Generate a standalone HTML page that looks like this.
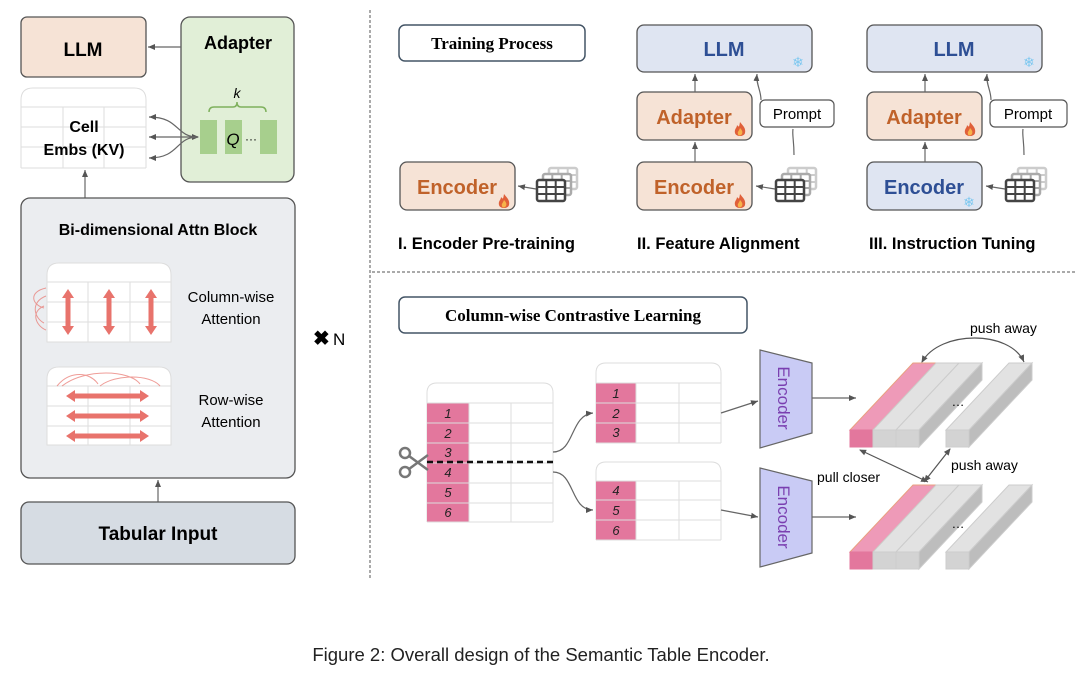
<!DOCTYPE html>
<html><head><meta charset="utf-8"><style>
html,body{margin:0;padding:0;background:#fff;}
svg{display:block;}
text{font-family:"Liberation Sans",sans-serif;}
.b{font-weight:bold;}
.serif{font-family:"Liberation Serif",serif;font-weight:bold;}
</style></head><body>
<svg width="1080" height="678" viewBox="0 0 1080 678" xmlns="http://www.w3.org/2000/svg">
<defs>
<marker id="ah" markerWidth="8" markerHeight="8" refX="7" refY="4" orient="auto" markerUnits="userSpaceOnUse"><path d="M0,1 L7,4 L0,7 z" fill="#555"/></marker>
<marker id="ahs" markerWidth="8" markerHeight="8" refX="1" refY="4" orient="auto" markerUnits="userSpaceOnUse"><path d="M7,1 L0,4 L7,7 z" fill="#555"/></marker>
<g id="grid">
<rect x="0" y="0" width="28" height="21" rx="2" fill="#fff" stroke-width="2.5"/>
<path d="M9.3,0V21M18.7,0V21M0,7H28M0,14H28" stroke-width="2"/>
</g>
<g id="tbl">
<g stroke="#ccc" fill="#fff"><use href="#grid" x="12" y="-12"/></g>
<g stroke="#aaa" fill="#fff"><use href="#grid" x="6" y="-6"/></g>
<g stroke="#444"><use href="#grid" x="0" y="0"/></g>
</g>
<g id="flame"><path d="M6,0 C9,4 12,6 11,11 C10,15 2,15 1,11 C0,7 3,6 3,3 C5,5 5,6 6,0z" fill="#e0603a"/><path d="M6,6 C8,8 9,10 8,12 C7,14 4,14 4,12 C3,10 5,9 6,6z" fill="#f7b24a"/></g>
</defs>

<!-- LEFT PANEL -->
<rect x="21" y="17" width="125" height="60" rx="6" fill="#f6e3d6" stroke="#555" stroke-width="1.3"/>
<text x="83" y="56" text-anchor="middle" class="b" font-size="19">LLM</text>
<rect x="181" y="17" width="113" height="165" rx="9" fill="#e1efd7" stroke="#555" stroke-width="1.3"/>
<text x="238" y="49" text-anchor="middle" class="b" font-size="18">Adapter</text>
<line x1="181" y1="47" x2="148" y2="47" stroke="#666" stroke-width="1.2" marker-end="url(#ah)"/>
<text x="237" y="98" text-anchor="middle" font-size="14" font-style="italic" font-family="Liberation Serif">k</text>
<path d="M209,112 Q209,107 214,107 L233,107 Q237,107 237,102 Q237,107 241,107 L261,107 Q266,107 266,112" fill="none" stroke="#7fb15d" stroke-width="1.5"/>
<rect x="200" y="120" width="17" height="34" fill="#a7cf8d"/>
<rect x="225" y="120" width="17" height="34" fill="#a7cf8d"/>
<rect x="260" y="120" width="17" height="34" fill="#a7cf8d"/>
<text x="233" y="145" text-anchor="middle" font-size="17" font-style="italic">Q</text>
<text x="251" y="143" text-anchor="middle" font-size="12">···</text>
<path d="M21,168 V100 Q21,88 33,88 H134 Q146,88 146,100 V168" fill="#fff" stroke="#ddd"/>
<path d="M21,107H146M21,127H146M21,147H146M21,168H146M63,107V168M104,107V168" stroke="#ddd" fill="none"/>
<text x="84" y="132" text-anchor="middle" class="b" font-size="16">Cell</text>
<text x="84" y="155" text-anchor="middle" class="b" font-size="16">Embs (KV)</text>
<path d="M198,137 C175,137 180,117 149,117" fill="none" stroke="#666" stroke-width="1.2" marker-end="url(#ah)" marker-start="url(#ahs)"/>
<line x1="198" y1="137" x2="149" y2="137" stroke="#666" stroke-width="1.2" marker-end="url(#ah)"/>
<path d="M198,137 C175,137 180,158 149,158" fill="none" stroke="#666" stroke-width="1.2" marker-end="url(#ah)"/>
<line x1="85" y1="198" x2="85" y2="170" stroke="#666" stroke-width="1.2" marker-end="url(#ah)"/>
<rect x="21" y="198" width="274" height="280" rx="9" fill="#ebedf0" stroke="#555" stroke-width="1.3"/>
<text x="158" y="235" text-anchor="middle" class="b" font-size="16">Bi-dimensional Attn Block</text>
<path d="M47,342 V275 Q47,263 59,263 H159 Q171,263 171,275 V342 Z" fill="#fff" stroke="#ddd"/>
<path d="M47,282H171M47,302H171M47,322H171M88,282V342M130,282V342" stroke="#ddd" fill="none"/>
<g fill="#e8736c">
<path d="M68,289 l-6,9 h3.5 v28 h-3.5 l6,9 l6,-9 h-3.5 v-28 h3.5z"/>
<path d="M109,289 l-6,9 h3.5 v28 h-3.5 l6,9 l6,-9 h-3.5 v-28 h3.5z"/>
<path d="M151,289 l-6,9 h3.5 v28 h-3.5 l6,9 l6,-9 h-3.5 v-28 h3.5z"/>
</g>
<path d="M46,288 C28,292 32,305 44,308 M46,296 C30,302 34,318 44,323 M44,306 C30,312 36,326 46,330" fill="none" stroke="#e8736c" stroke-width="1" opacity="0.7"/>
<text x="231" y="302" text-anchor="middle" font-size="15">Column-wise</text>
<text x="231" y="324" text-anchor="middle" font-size="15">Attention</text>
<path d="M47,445 V379 Q47,367 59,367 H159 Q171,367 171,379 V445 Z" fill="#fff" stroke="#ddd"/>
<path d="M47,386H171M47,406H171M47,426H171M88,386V445M130,386V445" stroke="#ddd" fill="none"/>
<g fill="#e8736c">
<path d="M66,396 l9,-6 v3.5 h65 v-3.5 l9,6 l-9,6 v-3.5 h-65 v3.5z"/>
<path d="M66,416 l9,-6 v3.5 h65 v-3.5 l9,6 l-9,6 v-3.5 h-65 v3.5z"/>
<path d="M66,436 l9,-6 v3.5 h65 v-3.5 l9,6 l-9,6 v-3.5 h-65 v3.5z"/>
</g>
<path d="M57,386 C70,370 90,372 98,384 M62,386 C85,368 130,370 140,384 M100,386 C115,374 150,374 160,386" fill="none" stroke="#e8736c" stroke-width="1" opacity="0.7"/>
<text x="231" y="405" text-anchor="middle" font-size="15">Row-wise</text>
<text x="231" y="427" text-anchor="middle" font-size="15">Attention</text>
<text x="313" y="345" font-size="20" font-weight="bold">✖</text>
<text x="333" y="345" font-size="17" font-family="Liberation Serif">N</text>
<line x1="158" y1="502" x2="158" y2="480" stroke="#666" stroke-width="1.2" marker-end="url(#ah)"/>
<rect x="21" y="502" width="274" height="62" rx="8" fill="#d6dce3" stroke="#555" stroke-width="1.3"/>
<text x="158" y="540" text-anchor="middle" class="b" font-size="19">Tabular Input</text>

<line x1="370" y1="10" x2="370" y2="578" stroke="#555" stroke-width="1" stroke-dasharray="3,2"/>
<line x1="372" y1="272" x2="1075" y2="272" stroke="#555" stroke-width="1" stroke-dasharray="3,2"/>

<rect x="399" y="25" width="186" height="36" rx="6" fill="#fff" stroke="#445566" stroke-width="1.5"/>
<text x="492" y="49" text-anchor="middle" class="serif" font-size="17">Training Process</text>

<rect x="400" y="162" width="115" height="48" rx="7" fill="#f6e3d6" stroke="#555" stroke-width="1.3"/>
<text x="457" y="194" text-anchor="middle" class="b" font-size="20" fill="#c0622a">Encoder</text>
<use href="#flame" x="498" y="194"/>
<line x1="536" y1="189" x2="518" y2="186" stroke="#666" stroke-width="1.2" marker-end="url(#ah)"/>
<use href="#tbl" x="537" y="180"/>

<rect x="637" y="25" width="175" height="47" rx="7" fill="#dfe5f2" stroke="#555" stroke-width="1.3"/>
<text x="724" y="56" text-anchor="middle" class="b" font-size="20" fill="#2e4f95">LLM</text>
<text x="798" y="67" text-anchor="middle" font-size="14" fill="#7ec8f0">❄</text>
<rect x="637" y="92" width="115" height="48" rx="7" fill="#f6e3d6" stroke="#555" stroke-width="1.3"/>
<text x="694" y="124" text-anchor="middle" class="b" font-size="20" fill="#c0622a">Adapter</text>
<use href="#flame" x="734" y="122"/>
<rect x="637" y="162" width="115" height="48" rx="7" fill="#f6e3d6" stroke="#555" stroke-width="1.3"/>
<text x="694" y="194" text-anchor="middle" class="b" font-size="20" fill="#c0622a">Encoder</text>
<use href="#flame" x="734" y="194"/>
<line x1="695" y1="162" x2="695" y2="142" stroke="#666" stroke-width="1.2" marker-end="url(#ah)"/>
<line x1="695" y1="92" x2="695" y2="74" stroke="#666" stroke-width="1.2" marker-end="url(#ah)"/>
<rect x="760" y="100" width="74" height="27" rx="5" fill="#fff" stroke="#555" stroke-width="1.2"/>
<text x="797" y="119" text-anchor="middle" font-size="15">Prompt</text>
<path d="M761,100 C761,90 756,85 757,74" fill="none" stroke="#666" stroke-width="1.2" marker-end="url(#ah)"/>
<path d="M794,155 C794,140 792,135 793,129" fill="none" stroke="#666" stroke-width="1.2"/>
<line x1="775" y1="189" x2="756" y2="186" stroke="#666" stroke-width="1.2" marker-end="url(#ah)"/>
<use href="#tbl" x="776" y="180"/>

<rect x="867" y="25" width="175" height="47" rx="7" fill="#dfe5f2" stroke="#555" stroke-width="1.3"/>
<text x="954" y="56" text-anchor="middle" class="b" font-size="20" fill="#2e4f95">LLM</text>
<text x="1029" y="67" text-anchor="middle" font-size="14" fill="#7ec8f0">❄</text>
<rect x="867" y="92" width="115" height="48" rx="7" fill="#f6e3d6" stroke="#555" stroke-width="1.3"/>
<text x="924" y="124" text-anchor="middle" class="b" font-size="20" fill="#c0622a">Adapter</text>
<use href="#flame" x="964" y="122"/>
<rect x="867" y="162" width="115" height="48" rx="7" fill="#dfe5f2" stroke="#555" stroke-width="1.3"/>
<text x="924" y="194" text-anchor="middle" class="b" font-size="20" fill="#2e4f95">Encoder</text>
<text x="969" y="207" text-anchor="middle" font-size="14" fill="#7ec8f0">❄</text>
<line x1="925" y1="162" x2="925" y2="142" stroke="#666" stroke-width="1.2" marker-end="url(#ah)"/>
<line x1="925" y1="92" x2="925" y2="74" stroke="#666" stroke-width="1.2" marker-end="url(#ah)"/>
<rect x="990" y="100" width="77" height="27" rx="5" fill="#fff" stroke="#555" stroke-width="1.2"/>
<text x="1028" y="119" text-anchor="middle" font-size="15">Prompt</text>
<path d="M991,100 C991,90 986,85 987,74" fill="none" stroke="#666" stroke-width="1.2" marker-end="url(#ah)"/>
<path d="M1024,155 C1024,140 1022,135 1023,129" fill="none" stroke="#666" stroke-width="1.2"/>
<line x1="1005" y1="189" x2="986" y2="186" stroke="#666" stroke-width="1.2" marker-end="url(#ah)"/>
<use href="#tbl" x="1006" y="180"/>

<text x="398" y="249" class="b" font-size="16.5">I. Encoder Pre-training</text>
<text x="637" y="249" class="b" font-size="16.5">II. Feature Alignment</text>
<text x="869" y="249" class="b" font-size="16.5">III. Instruction Tuning</text>

<rect x="399" y="297" width="348" height="36" rx="6" fill="#fff" stroke="#445566" stroke-width="1.5"/>
<text x="573" y="321" text-anchor="middle" class="serif" font-size="17">Column-wise Contrastive Learning</text>

<path d="M427,522 V393 Q427,383 437,383 H543 Q553,383 553,393 V522" fill="#fff" stroke="#ddd"/>
<rect x="427" y="403" width="42" height="119" fill="#e3779d"/>
<path d="M427,403H553M427,423H553M427,443H553M427,463H553M427,483H553M427,503H553M427,522H553M469,403V522M511,403V522" stroke="#ddd" fill="none"/>
<g font-family="Liberation Serif" font-style="italic" font-size="13" text-anchor="middle" fill="#222">
<text x="448" y="418">1</text><text x="448" y="438">2</text><text x="448" y="457">3</text><text x="448" y="477">4</text><text x="448" y="497">5</text><text x="448" y="517">6</text>
</g>
<line x1="427" y1="462" x2="553" y2="462" stroke="#111" stroke-width="2.5" stroke-dasharray="6,4"/>
<g fill="none" stroke="#777" stroke-width="2.5"><circle cx="405" cy="453" r="5"/><circle cx="405" cy="472" r="5"/><path d="M409,456 L428,470 M409,469 L428,455"/></g>

<path d="M596,443 V373 Q596,363 606,363 H711 Q721,363 721,373 V443" fill="#fff" stroke="#ddd"/>
<rect x="596" y="383" width="40" height="60" fill="#e3779d"/>
<path d="M596,383H721M596,403H721M596,423H721M596,443H721M636,383V443M679,383V443" stroke="#ddd" fill="none"/>
<path d="M596,540 V472 Q596,462 606,462 H711 Q721,462 721,472 V540" fill="#fff" stroke="#ddd"/>
<rect x="596" y="481" width="40" height="59" fill="#e3779d"/>
<path d="M596,481H721M596,500H721M596,520H721M596,540H721M636,481V540M679,481V540" stroke="#ddd" fill="none"/>
<g font-family="Liberation Serif" font-style="italic" font-size="13" text-anchor="middle" fill="#222">
<text x="616" y="398">1</text><text x="616" y="418">2</text><text x="616" y="437">3</text>
<text x="616" y="495">4</text><text x="616" y="515">5</text><text x="616" y="535">6</text>
</g>
<path d="M553,452 C575,452 570,415 593,413" fill="none" stroke="#666" stroke-width="1.2" marker-end="url(#ah)"/>
<path d="M553,472 C575,472 570,510 593,510" fill="none" stroke="#666" stroke-width="1.2" marker-end="url(#ah)"/>
<line x1="721" y1="413" x2="758" y2="401" stroke="#666" stroke-width="1.2" marker-end="url(#ah)"/>
<line x1="721" y1="510" x2="758" y2="517" stroke="#666" stroke-width="1.2" marker-end="url(#ah)"/>

<path d="M760,350 L812,363 L812,433 L760,448 Z" fill="#c9cbf5" stroke="#666" stroke-width="1.2"/>
<text transform="translate(778,398) rotate(90)" text-anchor="middle" font-size="17" fill="#7a3fb0">Encoder</text>
<path d="M760,468 L812,481 L812,553 L760,567 Z" fill="#c9cbf5" stroke="#666" stroke-width="1.2"/>
<text transform="translate(778,517) rotate(90)" text-anchor="middle" font-size="17" fill="#7a3fb0">Encoder</text>
<line x1="812" y1="398" x2="856" y2="398" stroke="#666" stroke-width="1.2" marker-end="url(#ah)"/>
<line x1="812" y1="517" x2="856" y2="517" stroke="#666" stroke-width="1.2" marker-end="url(#ah)"/>

<g id="stack1" stroke="#ccc" stroke-width="1">
<polygon points="850,430 873,430 936,363 913,363" fill="#ee9ab8" stroke="#e9a080"/>
<polygon points="873,430 896,430 959,363 936,363" fill="#e2e2e2"/>
<polygon points="896,430 919,430 982,363 959,363" fill="#e2e2e2"/>
<polygon points="919,430 982,363 982,380 919,447" fill="#bdbdbd"/>
<rect x="850" y="430" width="23" height="17" fill="#e3779d" stroke="#e3779d"/>
<rect x="873" y="430" width="23" height="17" fill="#d3d3d3"/>
<rect x="896" y="430" width="23" height="17" fill="#d3d3d3"/>
<polygon points="946,430 969,430 1032,363 1009,363" fill="#e2e2e2"/>
<polygon points="969,430 1032,363 1032,380 969,447" fill="#bdbdbd"/>
<rect x="946" y="430" width="23" height="17" fill="#d3d3d3"/>
</g>
<use href="#stack1" x="0" y="122"/>
<text x="958" y="406" text-anchor="middle" font-size="13">…</text>
<text x="958" y="528" text-anchor="middle" font-size="13">…</text>

<text x="970" y="333" font-size="14">push away</text>
<path d="M922,362 C940,330 1010,330 1024,362" fill="none" stroke="#555" stroke-width="1.2" marker-end="url(#ah)" marker-start="url(#ahs)"/>
<text x="817" y="482" font-size="14">pull closer</text>
<line x1="860" y1="450" x2="928" y2="482" stroke="#555" stroke-width="1.2" marker-end="url(#ah)" marker-start="url(#ahs)"/>
<text x="951" y="470" font-size="14">push away</text>
<line x1="950" y1="449" x2="924" y2="482" stroke="#555" stroke-width="1.2" marker-end="url(#ah)" marker-start="url(#ahs)"/>

<text x="541" y="661" text-anchor="middle" font-size="18.5" fill="#222">Figure 2: Overall design of the Semantic Table Encoder.</text>
</svg>
</body></html>
